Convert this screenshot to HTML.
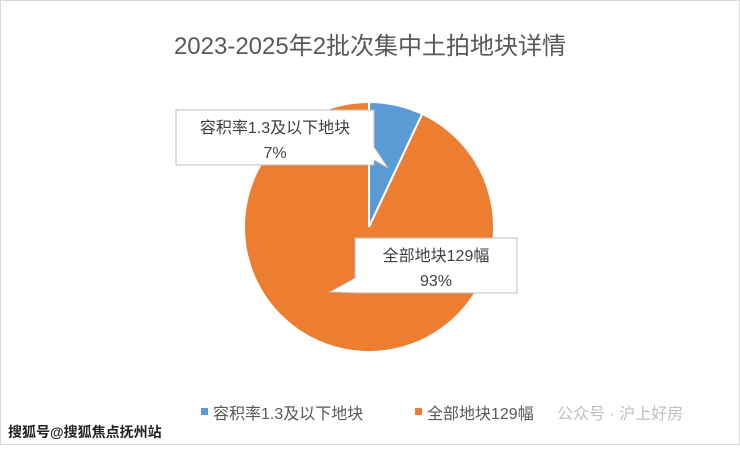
<!DOCTYPE html>
<html><head><meta charset="utf-8"><style>
body{margin:0;background:#fff;}
svg text{font-family:"Liberation Sans","Noto Sans CJK SC",sans-serif;}
</style></head><body>
<svg width="740" height="445" viewBox="0 0 740 445" xmlns="http://www.w3.org/2000/svg">
<rect x="0.5" y="0.5" width="739" height="444" fill="#fff" stroke="#d9d9d9"/>
<text x="370" y="54" text-anchor="middle" font-size="24" fill="#595959">2023-2025年2批次集中土拍地块详情</text>
<path d="M369,227 L369,102 A125,125 0 0 1 422.2,113.9 Z" fill="#5b9bd5" stroke="#fff" stroke-width="2"/>
<path d="M369,227 L422.2,113.9 A125,125 0 1 1 369,102 Z" fill="#ed7d31" stroke="#fff" stroke-width="2"/>
<path d="M176,110 H374 V147 L388,168 L374,160 V165 H176 Z" fill="#fff" stroke="#bfbfbf"/>
<text x="275" y="133" text-anchor="middle" font-size="16" fill="#404040">容积率1.3及以下地块</text>
<text x="275" y="158" text-anchor="middle" font-size="16" fill="#404040">7%</text>
<path d="M355,238 H517 V293 H358 L330,292 L355,278 Z" fill="#fff" stroke="#bfbfbf"/>
<text x="436" y="261" text-anchor="middle" font-size="16" fill="#404040">全部地块129幅</text>
<text x="436" y="286" text-anchor="middle" font-size="16" fill="#404040">93%</text>
<rect x="201" y="408" width="7" height="7" fill="#5b9bd5"/>
<text x="213" y="419" font-size="16" fill="#595959">容积率1.3及以下地块</text>
<rect x="415" y="408" width="7" height="7" fill="#ed7d31"/>
<text x="427" y="419" font-size="16" fill="#595959">全部地块129幅</text>
<text x="557" y="419" font-size="16" fill="#bfbfbf">公众号 · 沪上好房</text>
<text x="8" y="437" font-size="14" font-weight="bold" fill="#222">搜狐号@搜狐焦点抚州站</text>
</svg>
</body></html>
